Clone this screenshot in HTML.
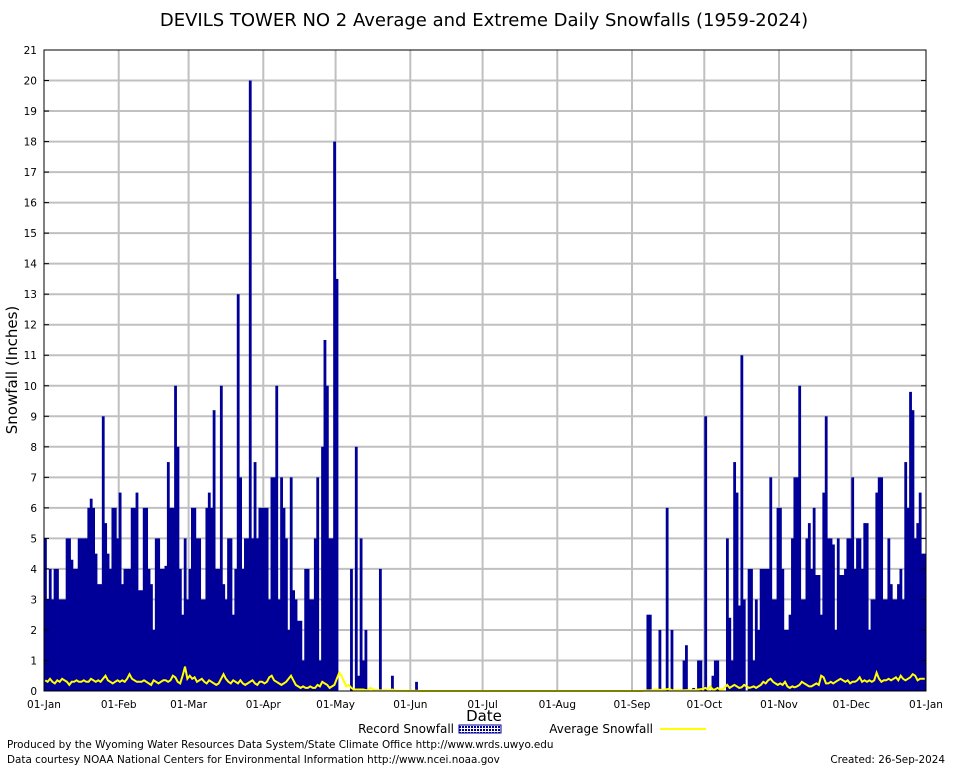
<!DOCTYPE html>
<html><head><meta charset="utf-8">
<style>
html,body{margin:0;padding:0;background:#fff;}
svg{display:block;font-family:"DejaVu Sans","Liberation Sans",sans-serif;}
</style></head>
<body>
<svg id="chart" width="954" height="768" viewBox="0 0 954 768" xmlns="http://www.w3.org/2000/svg">
<defs>
<pattern id="hatch" width="3" height="3" patternUnits="userSpaceOnUse">
<rect width="3" height="3" fill="#fff"/>
<rect width="2" height="2" fill="#000099"/>
</pattern>
</defs>
<rect width="954" height="768" fill="#fff"/>
<text x="484" y="26" text-anchor="middle" font-size="18" fill="#000">DEVILS TOWER NO 2 Average and Extreme Daily Snowfalls (1959-2024)</text>
<g id="grid"></g>
<g id="bars"></g>
<polyline id="avgline" fill="none" stroke="#ffff00" stroke-width="2"/>
<g id="axes"></g>
<text transform="translate(17,370) rotate(-90)" text-anchor="middle" font-size="15">Snowfall (Inches)</text>
<text x="484" y="721" text-anchor="middle" font-size="15">Date</text>
<g>
<text x="454" y="733" text-anchor="end" font-size="12">Record Snowfall</text>
<rect x="459" y="725" width="42" height="8" fill="url(#hatch)" stroke="#000099"/>
<text x="653" y="733" text-anchor="end" font-size="12">Average Snowfall</text>
<line x1="660" y1="729" x2="706" y2="729" stroke="#ffff00" stroke-width="2"/>
</g>
<text x="7" y="748" font-size="10.4">Produced by the Wyoming Water Resources Data System/State Climate Office http://www.wrds.uwyo.edu</text>
<text x="7" y="763" font-size="10.4">Data courtesy NOAA National Centers for Environmental Information http://www.ncei.noaa.gov</text>
<text x="945" y="763" text-anchor="end" font-size="10.4">Created:  26-Sep-2024</text>
</svg>
<script>
const recJan=[5,3,4,3,4,4,3,3,3,5,5,4.3,4,4,5,5,5,5,6,6.3,6,4.5,3.5,3.5,9,5.5,4.5,4,6,6,5];
const recFeb=[6.5,3.5,4,4,4,6,6,6.5,3.3,3.3,6,6,4,3.5,2,5,5,4,4,4.1,7.5,6,6,10,8,4,2.5,5,3];
const recMar=[4,6,6,5,5,3,3,6,6.5,6,9.2,4,4,10,3.5,3,5,5,2.5,4,13,7,4,5,5,20,5,7.5,5,6,6];
const recApr=[6,6,3,7,7,10,3,7,6,5,2,7,3.3,3,2.3,2.3,1,4,4,3,3,5,7,1,8,11.5,10,5,5,18];
const recMay=[13.5,0,0,0,0,0,4,0,8,0.5,5,1,2,0,0,0,0,0,4,0,0,0,0,0.5,0,0,0,0,0,0,0];
const recJun=[0,0,0.3,0,0,0,0,0,0,0,0,0,0,0,0,0,0,0,0,0,0,0,0,0,0,0,0,0,0,0];
const recJul=[0,0,0,0,0,0,0,0,0,0,0,0,0,0,0,0,0,0,0,0,0,0,0,0,0,0,0,0,0,0,0];
const recAug=[0,0,0,0,0,0,0,0,0,0,0,0,0,0,0,0,0,0,0,0,0,0,0,0,0,0,0,0,0,0,0];
const recSep=[0,0,0,0,0,0,2.5,2.5,0,0,0,2,0,0,6,0,2,0,0,0,0,1,1.5,0,0,0.1,0,1,1,0];
const recOct=[9,0,0,0.5,1,1,0,0,0,5,2.4,1,7.5,6.5,2.8,11,3,0,4,4,1,3,2,4,4,4,4,7,3,3,6];
const recNov=[6,4,2,2,2.5,5,7,7,10,3,3,5,5.5,4,6,3.8,3.8,2.5,6.5,9,5,5,4.8,2,5,3.8,3.8,4,5,5];
const recDec=[7,4,5,5,4,5.5,5.5,2,3,3,6.5,7,7,3,3,5,3.5,3,3,3.5,4,3,7.5,6,9.8,9.2,5,5.5,6.5,4.5,4.5];
const avgJan=[0.35,0.3,0.4,0.3,0.25,0.35,0.3,0.4,0.35,0.3,0.2,0.3,0.3,0.35,0.3,0.3,0.35,0.3,0.3,0.4,0.35,0.3,0.35,0.3,0.4,0.5,0.35,0.3,0.25,0.3,0.35];
const avgFeb=[0.3,0.35,0.3,0.4,0.55,0.4,0.35,0.3,0.3,0.3,0.35,0.3,0.25,0.2,0.35,0.3,0.25,0.3,0.35,0.35,0.3,0.35,0.5,0.45,0.3,0.25,0.5,0.8,0.4];
const avgMar=[0.5,0.4,0.45,0.3,0.35,0.4,0.3,0.25,0.35,0.3,0.25,0.2,0.25,0.4,0.55,0.4,0.3,0.25,0.35,0.3,0.25,0.35,0.25,0.2,0.25,0.3,0.35,0.25,0.2,0.3,0.3];
const avgApr=[0.25,0.3,0.45,0.5,0.35,0.3,0.25,0.2,0.25,0.3,0.4,0.5,0.35,0.2,0.15,0.1,0.15,0.1,0.1,0.15,0.1,0.1,0.2,0.15,0.3,0.25,0.2,0.1,0.15,0.2];
const avgMay=[0.4,0.6,0.5,0.3,0.15,0.2,0.1,0.05,0.05,0.05,0.05,0.05,0.03,0.03,0.1,0.05,0.03,0.03,0.02,0.02,0.03,0.02,0.02,0.05,0.02,0.01,0.01,0.01,0.01,0.01,0.01];
const avgJun=[0.01,0.01,0.01,0,0,0,0,0,0,0,0,0,0,0,0,0,0,0,0,0,0,0,0,0,0,0,0,0,0,0];
const avgJul=[0,0,0,0,0,0,0,0,0,0,0,0,0,0,0,0,0,0,0,0,0,0,0,0,0,0,0,0,0,0,0];
const avgAug=[0,0,0,0,0,0,0,0,0,0,0,0,0,0,0,0,0,0,0,0,0,0,0,0,0,0,0,0,0,0,0];
const avgSep=[0,0,0,0,0,0.02,0.02,0.02,0.03,0.04,0.04,0.04,0.03,0.05,0.06,0.07,0.03,0.02,0.03,0.02,0.03,0.02,0.03,0.03,0.02,0.03,0.04,0.05,0.06,0.07];
const avgOct=[0.1,0.05,0.15,0.05,0.05,0.1,0.05,0.05,0.12,0.2,0.1,0.15,0.2,0.15,0.1,0.12,0.2,0.15,0.1,0.12,0.15,0.1,0.15,0.2,0.3,0.25,0.35,0.4,0.3,0.25,0.2];
const avgNov=[0.25,0.2,0.3,0.15,0.1,0.15,0.12,0.15,0.2,0.3,0.25,0.2,0.15,0.15,0.2,0.25,0.2,0.5,0.45,0.25,0.25,0.3,0.25,0.3,0.35,0.4,0.35,0.3,0.35,0.25];
const avgDec=[0.3,0.3,0.35,0.45,0.3,0.35,0.3,0.35,0.3,0.35,0.6,0.4,0.3,0.35,0.35,0.4,0.35,0.4,0.45,0.35,0.5,0.4,0.35,0.4,0.45,0.55,0.5,0.35,0.4,0.4,0.4];
const monthLabels=["01-Jan","01-Feb","01-Mar","01-Apr","01-May","01-Jun","01-Jul","01-Aug","01-Sep","01-Oct","01-Nov","01-Dec","01-Jan"];
const yTicks=[0,1,2,3,4,5,6,7,8,9,10,11,12,13,14,15,16,17,18,19,20,21];

const record=[].concat(recJan,recFeb,recMar,recApr,recMay,recJun,recJul,recAug,recSep,recOct,recNov,recDec);
const average=[].concat(avgJan,avgFeb,avgMar,avgApr,avgMay,avgJun,avgJul,avgAug,avgSep,avgOct,avgNov,avgDec);
const monthArrays=[recJan,recFeb,recMar,recApr,recMay,recJun,recJul,recAug,recSep,recOct,recNov,recDec];

const L=44,R=926,T=50,B=691,NDAYS=366,YMAX=21;
function xs(d){return L+(R-L)*d/NDAYS;}
function ys(v){return B-(B-T)*v/YMAX;}
const NS="http://www.w3.org/2000/svg";
function mk(tag,attrs,parent){const e=document.createElementNS(NS,tag);for(const k in attrs)e.setAttribute(k,attrs[k]);parent.appendChild(e);return e;}

const grid=document.getElementById('grid');
const axes=document.getElementById('axes');
const monthStarts=[0];
monthArrays.forEach((m,i)=>monthStarts.push(monthStarts[i]+m.length));

yTicks.forEach(v=>{
  if(v>0&&v<YMAX){
    const g=mk('line',{x1:L,x2:R,y1:ys(v),y2:ys(v),stroke:'#c0c0c0','stroke-width':2},grid);
    
    
  }
  const t=mk('text',{x:L-7,y:ys(v)+4,'text-anchor':'end','font-size':10.5},axes);
  t.textContent=v;
  
  
  const tk=mk('line',{x1:L,x2:L+5,y1:ys(v),y2:ys(v),stroke:'#000'},axes);
  
  
  const tk2=mk('line',{x1:R-5,x2:R,y1:ys(v),y2:ys(v),stroke:'#000'},axes);
  
  
});
monthStarts.forEach((d,i)=>{
  const x=xs(d);
  if(d>0&&d<NDAYS){
    const g=mk('line',{x1:x,x2:x,y1:T,y2:B,stroke:'#c0c0c0','stroke-width':2},grid);
    
    
  }
  const t=mk('text',{x:x,y:708,'text-anchor':'middle','font-size':10.5},axes);
  t.textContent=monthLabels[i];
  
  
});

const bars=document.getElementById('bars');
const bw=(R-L)/NDAYS;
record.forEach((v,i)=>{
  if(v<=0)return;
  const r=mk('rect',{x:xs(i),y:ys(v),width:bw+0.4,height:B-ys(v),fill:'#000099'},bars);
  
  
});

document.getElementById('avgline').setAttribute('points',average.map((v,i)=>xs(i+0.5).toFixed(1)+','+ys(v).toFixed(1)).join(' '));

const frame=mk('rect',{x:L,y:T,width:R-L,height:B-T,fill:'none',stroke:'#000','stroke-width':1},axes);


</script>
</body></html>
